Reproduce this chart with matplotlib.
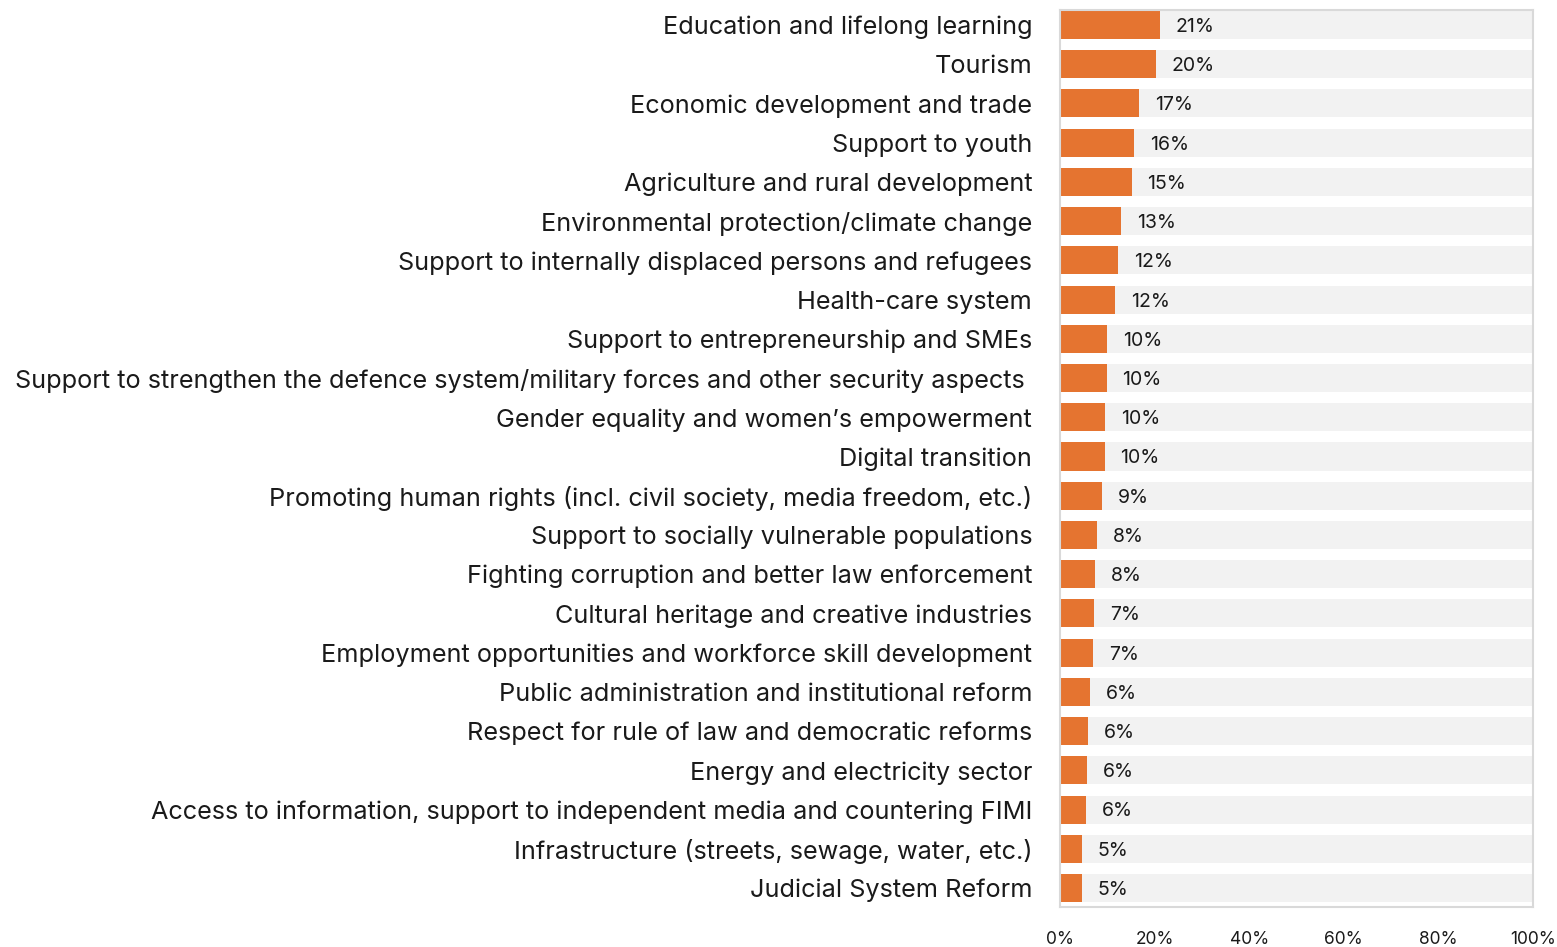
import matplotlib.pyplot as plt
from matplotlib.ticker import FuncFormatter

categories = [
    "Education and lifelong learning",
    "Tourism",
    "Economic development and trade",
    "Support to youth",
    "Agriculture and rural development",
    "Environmental protection/climate change",
    "Support to internally displaced persons and refugees",
    "Health-care system",
    "Support to entrepreneurship and SMEs",
    "Support to strengthen the defence system/military forces and other security aspects ",
    "Gender equality and women\u2019s empowerment",
    "Digital transition",
    "Promoting human rights (incl. civil society, media freedom, etc.)",
    "Support to socially vulnerable populations",
    "Fighting corruption and better law enforcement",
    "Cultural heritage and creative industries",
    "Employment opportunities and workforce skill development",
    "Public administration and institutional reform",
    "Respect for rule of law and democratic reforms",
    "Energy and electricity sector",
    "Access to information, support to independent media and countering FIMI",
    "Infrastructure (streets, sewage, water, etc.)",
    "Judicial System Reform",
]
values = [21.2, 20.3, 16.7, 15.7, 15.2, 12.9, 12.3, 11.7, 10.0, 9.9, 9.6, 9.5,
          8.9, 7.8, 7.5, 7.2, 7.0, 6.4, 5.9, 5.8, 5.5, 4.7, 4.7]
labels = ["21%", "20%", "17%", "16%", "15%", "13%", "12%", "12%", "10%", "10%", "10%", "10%",
          "9%", "8%", "8%", "7%", "7%", "6%", "6%", "6%", "6%", "5%", "5%"]
ticks = [0, 20, 40, 60, 80, 100]

plt.rcParams['font.family'] = ['Inter', 'DejaVu Sans']

fig = plt.figure(figsize=(15.57, 9.47), dpi=100)
ax = fig.add_axes([1060 / 1557, 40 / 947, 473 / 1557, 897 / 947])

y = list(range(len(categories)))
ax.barh(y, [100] * len(y), height=0.714, color="#F2F2F2", zorder=1)
ax.barh(y, values, height=0.714, color="#E57430", zorder=2)
for yi, v, lab in zip(y, values, labels):
    ax.text(v + 3.3, yi + 0.05, lab, va="center", ha="left", fontsize=14, color="#1a1a1a", zorder=3)

ax.set_xlim(0, 100)
ax.set_ylim(len(y) - 1 + 0.485, -0.383)
ax.set_yticks(y)
ax.set_yticklabels(categories, fontsize=18.2, color="#1a1a1a")
ax.set_xticks(ticks)
ax.xaxis.set_major_formatter(FuncFormatter(lambda v, p: f"{v:.0f}%"))
ax.tick_params(axis="y", length=0, pad=20)
ax.tick_params(axis="x", length=0, pad=17, labelsize=12.5, labelcolor="#1a1a1a")
for s in ax.spines.values():
    s.set_color("#D9D9D9")
    s.set_linewidth(1.5)

fig.savefig("out.png", dpi=100)
